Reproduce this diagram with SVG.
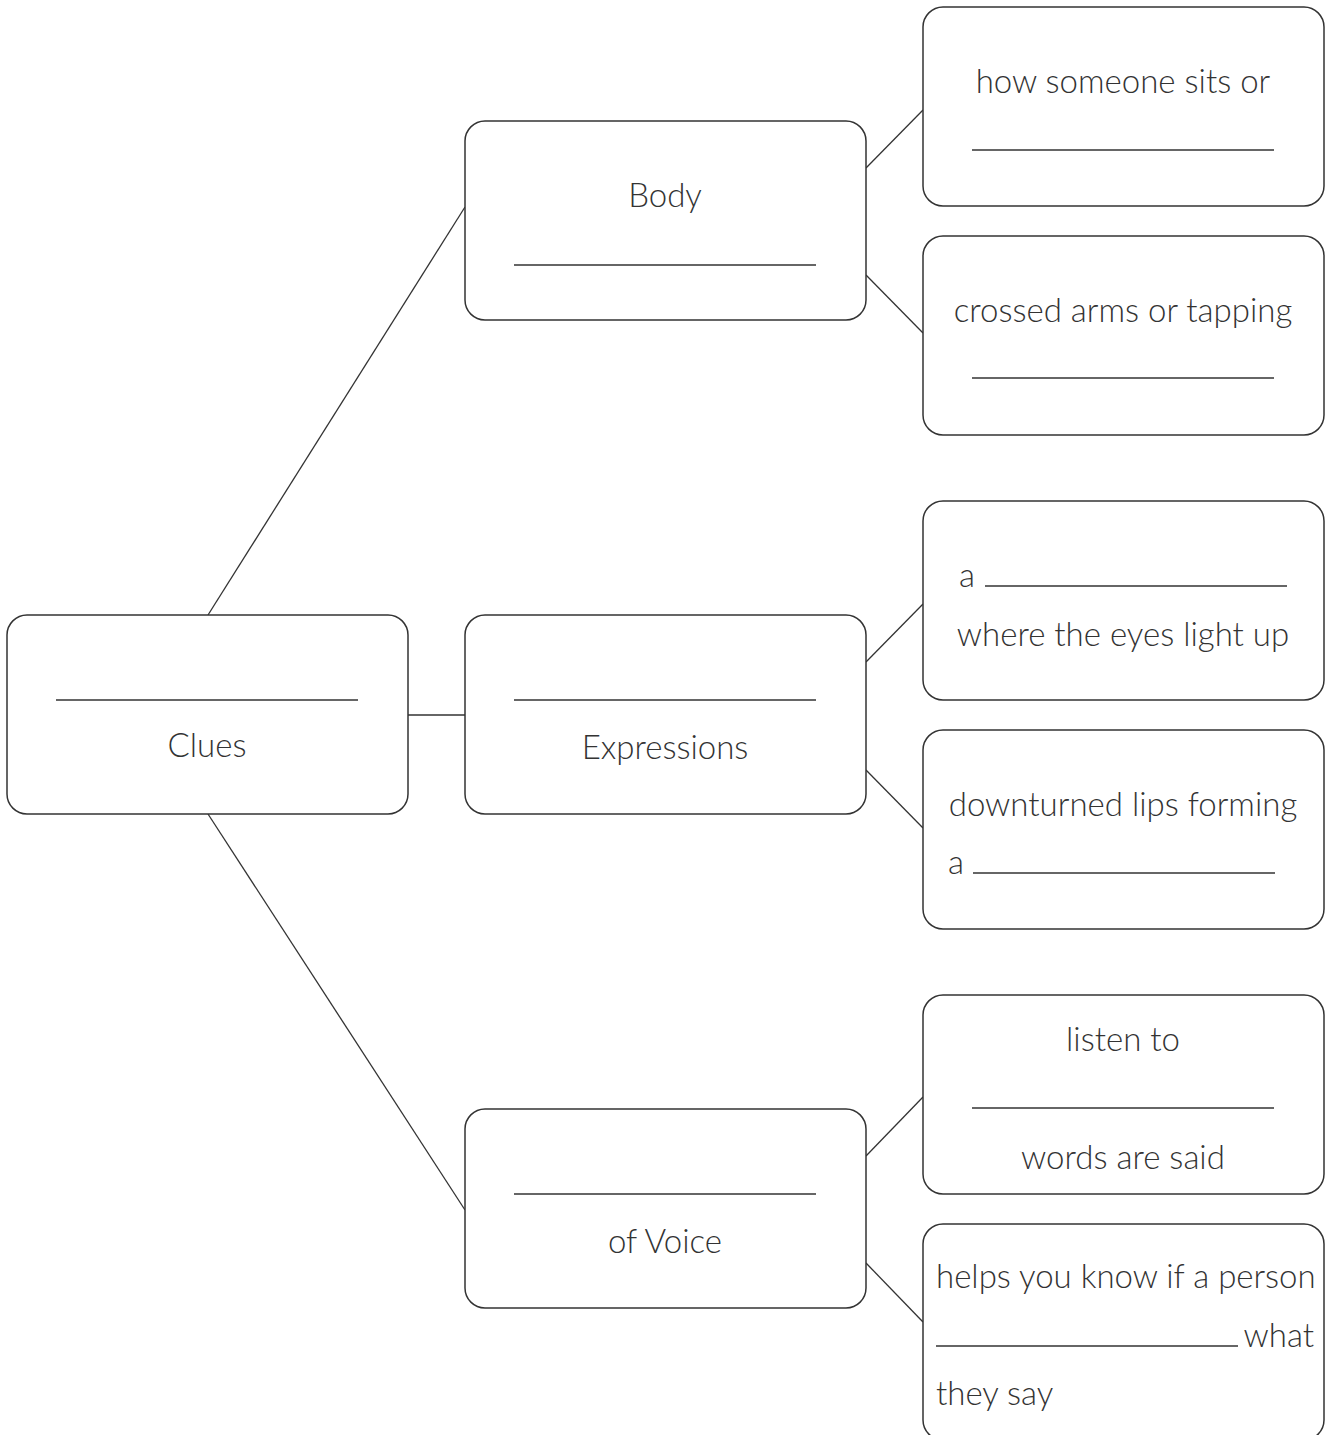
<svg xmlns="http://www.w3.org/2000/svg" width="1332" height="1435" viewBox="0 0 1332 1435">
<style>
.box{fill:#fff;stroke:#333;stroke-width:1.5}
.ln{stroke:#333;stroke-width:1.3;fill:none}
.bl{stroke:#333;stroke-width:1.5}
text{font-family:Lato,"Open Sans",sans-serif;font-weight:300;font-size:33px;fill:#333}
.c{text-anchor:middle}
</style>
<rect width="1332" height="1435" fill="#fff"/>
<g id="connectors">
<line class="ln" x1="208" y1="615" x2="465" y2="207"/>
<line class="ln" x1="208" y1="814" x2="465" y2="1210"/>
<line class="ln" x1="408" y1="715" x2="465" y2="715"/>
<line class="ln" x1="866" y1="168" x2="923" y2="110"/>
<line class="ln" x1="866" y1="275" x2="923" y2="333"/>
<line class="ln" x1="866" y1="662" x2="923" y2="604"/>
<line class="ln" x1="866" y1="770" x2="923" y2="828"/>
<line class="ln" x1="866" y1="1156" x2="923" y2="1097"/>
<line class="ln" x1="866" y1="1263" x2="923" y2="1322"/>
</g>
<g id="clues">
<rect class="box" x="7" y="615" width="401" height="199" rx="20"/>
<line class="bl" x1="56" y1="700" x2="358" y2="700"/>
<text class="c" x="207" y="757">Clues</text>
</g>
<g id="body">
<rect class="box" x="465" y="121" width="401" height="199" rx="20"/>
<text class="c" x="665" y="207">Body</text>
<line class="bl" x1="514" y1="265" x2="816" y2="265"/>
</g>
<g id="expressions">
<rect class="box" x="465" y="615" width="401" height="199" rx="20"/>
<line class="bl" x1="514" y1="700" x2="816" y2="700"/>
<text class="c" x="665" y="759">Expressions</text>
</g>
<g id="voice">
<rect class="box" x="465" y="1109" width="401" height="199" rx="20"/>
<line class="bl" x1="514" y1="1194" x2="816" y2="1194"/>
<text class="c" x="665" y="1253">of Voice</text>
</g>
<g id="sits">
<rect class="box" x="923" y="7" width="401" height="199" rx="20"/>
<text class="c" x="1123" y="93">how someone sits or</text>
<line class="bl" x1="972" y1="150" x2="1274" y2="150"/>
</g>
<g id="arms">
<rect class="box" x="923" y="236" width="401" height="199" rx="20"/>
<text class="c" x="1123" y="322">crossed arms or tapping</text>
<line class="bl" x1="972" y1="378" x2="1274" y2="378"/>
</g>
<g id="smile">
<rect class="box" x="923" y="501" width="401" height="199" rx="20"/>
<text x="959" y="587">a</text>
<line class="bl" x1="985" y1="586" x2="1287" y2="586"/>
<text class="c" x="1123" y="646">where the eyes light up</text>
</g>
<g id="frown">
<rect class="box" x="923" y="730" width="401" height="199" rx="20"/>
<text class="c" x="1123" y="816">downturned lips forming</text>
<text x="948" y="874">a</text>
<line class="bl" x1="973" y1="873" x2="1275" y2="873"/>
</g>
<g id="listen">
<rect class="box" x="923" y="995" width="401" height="199" rx="20"/>
<text class="c" x="1123" y="1051">listen to</text>
<line class="bl" x1="972" y1="1108" x2="1274" y2="1108"/>
<text class="c" x="1123" y="1169">words are said</text>
</g>
<g id="means">
<rect class="box" x="923" y="1224" width="401" height="216" rx="20"/>
<text x="936" y="1288">helps you know if a person</text>
<line class="bl" x1="936" y1="1346" x2="1238" y2="1346"/>
<text x="1314" y="1347" text-anchor="end">what</text>
<text x="936" y="1405">they say</text>
</g>
</svg>
